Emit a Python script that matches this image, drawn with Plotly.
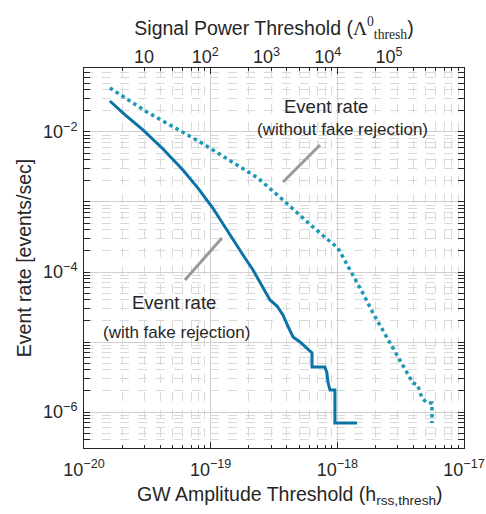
import math
import plotly.graph_objects as go

# ---- data ----
h_with = [1.60e-20, 2.11e-20, 2.92e-20, 4.21e-20, 6.04e-20, 7.94e-20, 1.04e-19, 1.25e-19,
          1.50e-19, 1.80e-19, 2.16e-19, 2.54e-19, 2.94e-19, 3.34e-19, 3.72e-19, 4.07e-19,
          4.47e-19, 5.07e-19, 5.75e-19, 6.31e-19, 6.31e-19, 7.98e-19, 8.28e-19, 8.43e-19,
          8.75e-19, 9.57e-19, 9.57e-19, 1.43e-18]
rate_with = [2.77e-2, 1.75e-2, 1.07e-2, 5.71e-3, 2.87e-3, 1.58e-3, 8.21e-4, 4.85e-4,
             2.87e-4, 1.75e-4, 1.07e-4, 6.52e-5, 3.98e-5, 3.27e-5, 2.43e-5, 1.69e-5,
             1.18e-5, 1.0e-5, 8.2e-6, 6.97e-6, 4.40e-6, 4.40e-6, 3.61e-6, 2.68e-6,
             2.06e-6, 2.06e-6, 6.97e-7, 6.97e-7]

h_without = [1.60e-20, 3.14e-20, 8.24e-20, 1.70e-19, 2.36e-19, 3.72e-19, 6.41e-19, 1.01e-18,
             1.26e-18, 1.59e-18, 1.91e-18, 2.60e-18, 3.30e-18, 3.95e-18, 4.30e-18, 4.66e-18,
             5.09e-18, 5.58e-18, 5.58e-18]
rate_without = [4.26e-2, 1.93e-2, 7.2e-3, 3.16e-3, 2.2e-3, 1.07e-3, 4.4e-4, 2.2e-4,
                1.07e-4, 5.0e-5, 2.6e-5, 9.7e-6, 4.4e-6, 2.6e-6, 2.45e-6, 1.58e-6,
                1.35e-6, 1.35e-6, 6.97e-7]

y_tick_exps = [-7, -6, -5, -4, -3, -2, -1]
x_tick_exps = [-20, -19, -18, -17]
lam_tick_vals = [10, 100, 1000, 10000, 100000]
lam_tick_text = ["10", "10<sup>2</sup>", "10<sup>3</sup>", "10<sup>4</sup>", "10<sup>5</sup>"]

# leader lines for the text labels
leader_without = ([10**-18.429, 10**-18.137], [10**-2.714, 10**-2.186])
leader_with = ([10**-19.203, 10**-18.911], [10**-4.114, 10**-3.514])

FONT = "Liberation Sans, Arial, Helvetica, sans-serif"
TXT = "#262626"
C_WITH = "#0b73a8"
C_WITHOUT = "#1b98b6"

def sup_label(e):
    return "10<sup>\u2212%d</sup>" % (-e)

def minor_vals(lo, hi):
    v = []
    for e in range(lo, hi):
        for m in range(2, 10):
            v.append(m * 10.0**e)
    return v

fig = go.Figure()

for lx, ly in (leader_without, leader_with):
    fig.add_trace(go.Scatter(x=lx, y=ly, mode="lines", line=dict(color="#9a9a9a", width=3),
                             showlegend=False, hoverinfo="skip"))

fig.add_trace(go.Scatter(x=h_without, y=rate_without, mode="lines",
                         line=dict(color=C_WITHOUT, width=3.5, dash="dot"), showlegend=False))
fig.add_trace(go.Scatter(x=h_with, y=rate_with, mode="lines",
                         line=dict(color=C_WITH, width=3), showlegend=False))

fig.add_trace(go.Scatter(x=[10, 1e5], y=[1e-3, 1e-3], xaxis="x2", mode="markers",
                         marker=dict(opacity=0), showlegend=False, hoverinfo="skip"))

axis_common = dict(
    type="log", showline=True, linecolor=TXT, linewidth=1, mirror="allticks",
    ticks="inside", ticklen=6, tickcolor=TXT, showgrid=True, gridcolor="#cfcfcf",
    gridwidth=1, zeroline=False, tickfont=dict(family=FONT, size=18, color=TXT),
    automargin=False,
)

fig.update_layout(
    width=486, height=514,
    margin=dict(l=84, r=22, t=68, b=66),
    paper_bgcolor="white", plot_bgcolor="white",
    font=dict(family=FONT, color=TXT),
    xaxis=dict(
        axis_common,
        range=[-20, -17],
        tickmode="array",
        tickvals=[10.0**e for e in x_tick_exps],
        ticktext=[sup_label(e) for e in x_tick_exps],
        ticklabelstandoff=5,
        minor=dict(tickmode="array", tickvals=minor_vals(-20, -17), ticks="inside",
                   ticklen=3, tickcolor=TXT, showgrid=True, gridcolor="#d9d9d9",
                   griddash="dash", gridwidth=1),
    ),
    yaxis=dict(
        axis_common,
        range=[-6.514, -1.086],
        tickmode="array",
        tickvals=[10.0**e for e in y_tick_exps],
        ticktext=[sup_label(e) if e % 2 == 0 else "" for e in y_tick_exps],
        ticklabelstandoff=2,
        minor=dict(tickmode="array", tickvals=minor_vals(-7, -1), ticks="inside",
                   ticklen=3, tickcolor=TXT, showgrid=True, gridcolor="#d9d9d9",
                   griddash="dash", gridwidth=1),
        title=dict(text="Event rate [events/sec]",
                   font=dict(family=FONT, size=19.5, color=TXT), standoff=6),
    ),
    xaxis2=dict(
        type="log", overlaying="x", side="top", anchor="y", automargin=False,
        range=[0.020, 6.224], showgrid=False, showline=False, ticks="",
        tickmode="array", tickvals=lam_tick_vals, ticktext=lam_tick_text,
        tickfont=dict(family=FONT, size=18, color=TXT), zeroline=False,
        title=dict(text="Signal Power Threshold (<span style='font-family:Liberation Serif,Times New Roman,serif'>\u039b<sup>0</sup><sub>thresh</sub></span>)",
                   font=dict(family=FONT, size=19.5, color=TXT), standoff=4),
    ),
)

# bottom axis title (placed as paper annotation to match the reference offset)
fig.add_annotation(x=0.542, y=-0.124, xref="paper", yref="paper",
                   text="GW Amplitude Threshold (h<sub>rss,thresh</sub>)",
                   showarrow=False, xanchor="center", yanchor="middle",
                   font=dict(family=FONT, size=19.5, color=TXT))

ann = [
    (10**-18.090, 10**-1.643, "Event rate", 18.5),
    (10**-17.963, 10**-1.971, "(without fake rejection)", 17),
    (10**-19.289, 10**-4.429, "Event rate", 18.5),
    (10**-19.266, 10**-4.857, "(with fake rejection)", 17),
]
for x, y, t, s in ann:
    fig.add_annotation(x=math.log10(x), y=math.log10(y), xref="x", yref="y", text=t,
                       showarrow=False, font=dict(family=FONT, size=s, color=TXT))

fig.write_html("out.html", config={"displayModeBar": False},
               post_script="document.body.style.margin='0';")
